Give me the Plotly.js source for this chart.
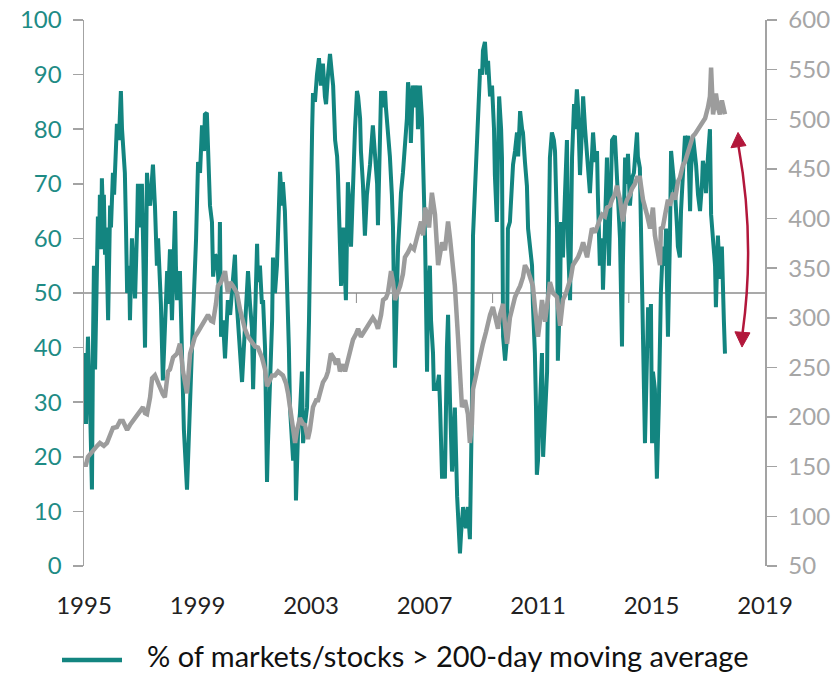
<!DOCTYPE html>
<html>
<head>
<meta charset="utf-8">
<script src="https://cdn.plot.ly/plotly-3.0.1.min.js"></script>
<style>
  html, body { margin: 0; padding: 0; background: #ffffff; }
  #chart { width: 838px; height: 673px; }
</style>
</head>
<body>
<div id="chart"></div>
<script>
// ---- Data ----
const seriesName = "% of markets/stocks > 200-day moving average";

const tealYears = [
1995.00,1995.04,1995.07,1995.11,1995.14,1995.21,1995.28,1995.32,1995.35,1995.39,1995.46,1995.49,1995.53,1995.56,1995.60,1995.63,1995.67,1995.70,1995.74,1995.78,
1995.85,1995.92,1995.95,1996.02,1996.06,1996.13,1996.16,1996.23,1996.30,1996.34,1996.37,1996.44,1996.48,1996.52,1996.59,1996.62,1996.69,1996.73,1996.80,1996.87,
1996.90,1996.97,1997.04,1997.08,1997.15,1997.22,1997.26,1997.33,1997.40,1997.43,1997.50,1997.57,1997.61,1997.68,1997.71,1997.78,1997.85,1997.93,1997.96,1998.03,
1998.10,1998.21,1998.24,1998.28,1998.38,1998.45,1998.52,1998.63,1998.74,1998.84,1998.95,1999.02,1999.09,1999.16,1999.23,1999.26,1999.33,1999.37,1999.44,1999.51,
1999.55,1999.62,1999.69,1999.76,1999.79,1999.83,1999.90,1999.97,2000.04,2000.07,2000.15,2000.22,2000.32,2000.36,2000.43,2000.50,2000.57,2000.67,2000.74,2000.78,
2000.85,2000.92,2000.96,2001.03,2001.10,2001.13,2001.20,2001.27,2001.31,2001.38,2001.45,2001.48,2001.55,2001.63,2001.66,2001.73,2001.80,2001.87,2001.91,2001.98,
2002.01,2002.08,2002.15,2002.22,2002.26,2002.33,2002.37,2002.44,2002.47,2002.54,2002.61,2002.68,2002.72,2002.79,2002.86,2002.93,2002.96,2003.00,2003.04,2003.07,
2003.14,2003.21,2003.28,2003.35,2003.42,2003.49,2003.53,2003.60,2003.67,2003.74,2003.78,2003.85,2003.92,2003.95,2004.02,2004.06,2004.13,2004.20,2004.23,2004.30,
2004.37,2004.41,2004.48,2004.55,2004.62,2004.66,2004.73,2004.76,2004.83,2004.90,2004.97,2005.08,2005.18,2005.26,2005.33,2005.36,2005.43,2005.47,2005.54,2005.61,
2005.64,2005.71,2005.78,2005.85,2005.89,2005.96,2006.00,2006.07,2006.14,2006.17,2006.24,2006.31,2006.38,2006.42,2006.49,2006.52,2006.59,2006.66,2006.74,2006.77,
2006.84,2006.91,2006.95,2007.02,2007.09,2007.12,2007.19,2007.23,2007.30,2007.33,2007.44,2007.51,2007.55,2007.62,2007.69,2007.72,2007.79,2007.83,2007.90,2007.97,
2008.04,2008.07,2008.15,2008.25,2008.29,2008.36,2008.46,2008.53,2008.60,2008.67,2008.71,2008.78,2008.85,2008.92,2008.96,2009.03,2009.06,2009.13,2009.20,2009.24,
2009.31,2009.38,2009.45,2009.48,2009.55,2009.59,2009.63,2009.70,2009.73,2009.77,2009.84,2009.91,2009.94,2010.01,2010.08,2010.12,2010.19,2010.26,2010.30,2010.37,
2010.44,2010.47,2010.54,2010.61,2010.65,2010.72,2010.79,2010.82,2010.89,2010.93,2010.96,2011.00,2011.07,2011.14,2011.18,2011.25,2011.32,2011.35,2011.42,2011.49,
2011.56,2011.60,2011.67,2011.70,2011.78,2011.81,2011.88,2011.95,2012.02,2012.06,2012.13,2012.20,2012.27,2012.30,2012.37,2012.41,2012.48,2012.55,2012.59,2012.66,
2012.73,2012.80,2012.83,2012.90,2012.94,2013.01,2013.08,2013.11,2013.18,2013.26,2013.29,2013.36,2013.43,2013.50,2013.57,2013.61,2013.71,2013.78,2013.82,2013.89,
2013.96,2013.99,2014.07,2014.14,2014.17,2014.24,2014.31,2014.38,2014.49,2014.52,2014.59,2014.63,2014.67,2014.74,2014.77,2014.84,2014.88,2014.95,2014.98,2015.02,
2015.05,2015.12,2015.16,2015.19,2015.26,2015.30,2015.33,2015.40,2015.48,2015.51,2015.58,2015.65,2015.69,2015.76,2015.83,2015.90,2015.93,2016.00,2016.04,2016.11,
2016.18,2016.25,2016.29,2016.36,2016.39,2016.46,2016.53,2016.57,2016.64,2016.71,2016.78,2016.81,2016.89,2016.92,2016.99,2017.06,2017.10,2017.17,2017.24,2017.27,
2017.31,2017.34,2017.41,2017.45,2017.48,2017.55,2017.59
];
const tealValues = [
35,39,26,36,42,30,14,42,55,36,55,64,58,68,58,71,64,68,57,62,
45,66,62,72,68,78,81,78,87,80,78,72,62,50,55,45,60,55,49,62,
70,62,70,60,40,72,68,66,70,73.5,66,55,60,52.6,48,34,45,54,48,58,
45,65,55,48.7,54,36,25,14,32,45,60,74,72,80.7,76,82.7,83,77,66,63,
53,57,56.5,50,63,42,45,38,44,48.7,46,51.3,57,50,44.8,40,33.7,43.5,50,54,
48,43.5,32.4,45,59,52,55,48,48.7,40,15.4,22,32.4,45,56.5,50,55,68,72.2,66,
70.3,65,55,40,29,22,19.3,25,12,23.9,28,35.6,22.5,26,29,45,58.5,70,80,86.6,
85,90,93,88,92,86,84.6,90,93.8,90,88,78,75,71.6,60,51.3,62,55,48.7,70.3,
65,58.5,70,80,87,86,82,76,70,60.5,68,73.5,80.7,76,70,62.4,75,87,84,87,
84,80,75,68,62,36.3,48,58.5,65,68.3,72,76,82,88.6,85,77.5,88,84,88,80,
88,82,75,60,35.6,48,55,45,39,32.4,32.4,35,29,16,20,16,40,46,30,17.3,
25,29,12.7,2.3,6,10.8,6.9,10.8,4.9,29,60.5,70,78.8,86,91,90,94.4,96,90,92.5,
86,88,80,71.6,63,75,86,80,74.8,42,37.6,42,61.8,63,70,73.5,76,79.4,75,83.3,
80,79.4,74,69.6,61.8,58,55,48,39,29,16.7,19.3,30,39,20,28,35.6,50,74.8,79.4,
78,76,61.8,37.6,50,63,56.5,68,78,58.5,48.7,74.8,84.6,80,87.3,84,71.6,80,86,80,
74.8,72,68.3,75,79.4,74,76,68,55,60,50.6,62,74.8,55,68,78,78.8,72,68.3,60,
40.2,55,74.8,70,75.5,66,71,72,79.4,75,72.9,60,48.7,35,22.5,38,47.4,40,48,22.5,
35.6,32.4,25,16,30,42,50,58.5,55,61.8,42,60,76,72,68.3,62,58.5,56.5,65,72,
78.8,76,78.8,65,72,78.8,76,73.5,68,65,70,74.2,72,68.3,75,80,64.4,60,55,47.4,
55,60.5,52.6,56,58.5,45,38.9
];

const indexYears = [
1995.00,1995.07,1995.14,1995.32,1995.46,1995.56,1995.70,1995.81,1995.92,1996.02,1996.16,1996.27,1996.37,1996.52,1996.62,1996.76,1996.87,1996.97,1997.08,1997.15,
1997.22,1997.33,1997.40,1997.50,1997.61,1997.68,1997.78,1997.85,1997.96,1998.03,1998.14,1998.28,1998.38,1998.49,1998.56,1998.63,1998.74,1998.91,1999.02,1999.16,
1999.26,1999.37,1999.48,1999.55,1999.65,1999.72,1999.83,1999.97,2000.07,2000.15,2000.25,2000.39,2000.50,2000.57,2000.67,2000.78,2000.92,2001.03,2001.13,2001.27,
2001.38,2001.45,2001.55,2001.63,2001.73,2001.84,2002.01,2002.12,2002.19,2002.30,2002.37,2002.44,2002.51,2002.61,2002.72,2002.79,2002.89,2002.96,2003.07,2003.18,
2003.25,2003.35,2003.42,2003.53,2003.60,2003.70,2003.81,2003.88,2003.95,2004.02,2004.13,2004.20,2004.30,2004.37,2004.48,2004.59,2004.66,2004.76,2004.87,2004.94,
2005.08,2005.18,2005.29,2005.36,2005.47,2005.54,2005.64,2005.71,2005.82,2005.89,2005.96,2006.07,2006.14,2006.24,2006.31,2006.42,2006.52,2006.63,2006.70,2006.81,
2006.88,2006.95,2007.02,2007.09,2007.16,2007.26,2007.37,2007.48,2007.55,2007.62,2007.72,2007.83,2007.90,2007.97,2008.07,2008.18,2008.25,2008.32,2008.43,2008.53,
2008.60,2008.67,2008.71,2008.81,2008.89,2008.99,2009.06,2009.17,2009.24,2009.31,2009.41,2009.48,2009.59,2009.66,2009.77,2009.84,2009.91,2010.01,2010.08,2010.19,
2010.30,2010.37,2010.47,2010.54,2010.65,2010.72,2010.82,2010.89,2011.00,2011.07,2011.14,2011.25,2011.35,2011.42,2011.53,2011.67,2011.78,2011.88,2011.99,2012.06,
2012.16,2012.23,2012.34,2012.41,2012.52,2012.59,2012.73,2012.83,2012.90,2013.01,2013.08,2013.18,2013.26,2013.36,2013.43,2013.54,2013.61,2013.71,2013.78,2013.89,
2013.99,2014.07,2014.14,2014.24,2014.31,2014.42,2014.49,2014.59,2014.70,2014.77,2014.84,2014.95,2015.05,2015.12,2015.23,2015.30,2015.33,2015.40,2015.48,2015.58,
2015.65,2015.76,2015.83,2015.93,2016.00,2016.11,2016.18,2016.29,2016.36,2016.46,2016.53,2016.64,2016.71,2016.81,2016.89,2016.99,2017.06,2017.10,2017.13,2017.17,
2017.24,2017.27,2017.34,2017.41,2017.48,2017.52,2017.55,2017.59
];
const indexValues = [
152,152,160,167,171,174,171,174,182,189,190,196,196,187,192,198,203,207,210,204,
203,220,239,242,234,231,223,220,246,248,260,264,274,246,237,224,264,281,286,292,
297,303,297,296,314,332,336,347,325,336,332,325,308,300,289,281,275,271,270,260,
248,231,237,242,242,246,242,234,224,204,192,174,187,199,193,192,178,187,210,217,
217,226,235,240,246,264,259,253,259,246,253,246,256,264,278,284,289,281,286,289,
295,300,295,289,303,318,320,325,347,336,318,325,332,344,361,366,372,369,376,386,
397,383,411,404,391,426,404,353,364,376,368,397,380,361,332,281,248,210,217,203,
174,193,228,242,253,264,274,286,296,303,311,303,289,303,314,292,274,300,308,321,
328,332,341,353,347,341,332,311,281,297,318,296,325,336,325,321,292,318,325,332,
341,353,358,361,369,376,361,380,390,386,393,399,404,402,411,413,419,424,433,419,
397,413,419,424,430,435,441,441,419,413,404,390,411,383,361,353,390,391,404,419,
413,426,419,437,441,454,457,468,474,483,485,490,493,497,501,512,523,552,523,505,
518,526,512,505,519,512,507,505
];

const xTickVals = [1995, 1999, 2003, 2007, 2011, 2015, 2019];
const leftTickVals = [0, 10, 20, 30, 40, 50, 60, 70, 80, 90, 100];
const rightTickVals = [50, 100, 150, 200, 250, 300, 350, 400, 450, 500, 550, 600];
const crossTickVals = [1999.8, 2004.6, 2009.4, 2014.2];

// ---- Styling ----
const TEAL = "#138580";
const TEAL_TXT = "#1E8B85";
const GRAY_LINE = "#9C9C9C";
const GRAY_TXT = "#A6A6A6";
const AXIS_GRAY = "#A3A3A3";
const RED = "#B2173B";
const FONT = "Lato, 'Open Sans', sans-serif";
const TICK_SIZE = 24;

const traces = [
  {
    x: tealYears, y: tealValues, type: "scatter", mode: "lines",
    name: seriesName, yaxis: "y",
    line: { color: TEAL, width: 4 }, showlegend: false, hoverinfo: "skip"
  },
  {
    x: indexYears, y: indexValues, type: "scatter", mode: "lines",
    name: "Index", yaxis: "y2",
    line: { color: GRAY_LINE, width: 4.5 }, showlegend: false, hoverinfo: "skip"
  }
];

const shapes = [
  { type: "line", xref: "x", yref: "y", x0: 1995, x1: 2019, y0: 50, y1: 50,
    line: { color: "#8C8C8C", width: 1.5 }, layer: "below" }
];
crossTickVals.forEach(v => {
  shapes.push({ type: "line", xref: "x", yref: "y", ysizemode: "pixel", yanchor: 50,
    x0: v, x1: v, y0: 0, y1: -10, line: { color: "#8C8C8C", width: 1 }, layer: "below" });
});
// curved double-headed arrow
shapes.push({ type: "path", xref: "x", yref: "y",
  path: "M2018.07,76.8 Q2018.66,59.75 2018.21,42.7",
  line: { color: RED, width: 2.5 } });
shapes.push({ type: "path", xref: "x", yref: "y",
  path: "M2018.05,79.4 L2017.80,76.6 L2018.33,77.0 Z",
  fillcolor: RED, line: { color: RED, width: 1 } });
shapes.push({ type: "path", xref: "x", yref: "y",
  path: "M2018.19,40.1 L2017.94,42.9 L2018.47,42.7 Z",
  fillcolor: RED, line: { color: RED, width: 1 } });
// legend sample line
shapes.push({ type: "line", xref: "paper", yref: "paper",
  x0: -0.0323, x1: 0.0558, y0: -0.1723, y1: -0.1723,
  line: { color: TEAL, width: 4.5 } });

const layout = {
  width: 838, height: 673,
  margin: { l: 84, r: 73, t: 20, b: 107 },
  paper_bgcolor: "#ffffff", plot_bgcolor: "#ffffff",
  font: { family: FONT, size: TICK_SIZE, color: "#222222" },
  showlegend: false,
  xaxis: {
    range: [1995, 2019], tickvals: xTickVals, ticktext: xTickVals.map(String),
    showgrid: false, zeroline: false, showline: false, ticks: "",
    ticklabelstandoff: 23,
    tickfont: { family: FONT, size: TICK_SIZE, color: "#222222" }
  },
  yaxis: {
    range: [0, 100], tickvals: leftTickVals,
    showgrid: false, zeroline: false, showline: true,
    linecolor: AXIS_GRAY, linewidth: 1.5,
    ticks: "outside", ticklen: 10, tickwidth: 1.5, tickcolor: AXIS_GRAY,
    ticklabelstandoff: 6,
    tickfont: { family: FONT, size: TICK_SIZE, color: TEAL_TXT }
  },
  yaxis2: {
    range: [50, 600], tickvals: rightTickVals,
    overlaying: "y", side: "right",
    showgrid: false, zeroline: false, showline: true,
    linecolor: AXIS_GRAY, linewidth: 1.5,
    ticks: "outside", ticklen: 10, tickwidth: 1.5, tickcolor: AXIS_GRAY,
    ticklabelstandoff: 7,
    tickfont: { family: FONT, size: TICK_SIZE, color: GRAY_TXT }
  },
  shapes: shapes,
  annotations: [
    { xref: "paper", yref: "paper", x: 0.0896, y: -0.164,
      xanchor: "left", yanchor: "middle", showarrow: false,
      text: seriesName, font: { family: FONT, size: 29, color: "#111111" } }
  ]
};

Plotly.newPlot("chart", traces, layout, { staticPlot: true, displayModeBar: false });
</script>
</body>
</html>
